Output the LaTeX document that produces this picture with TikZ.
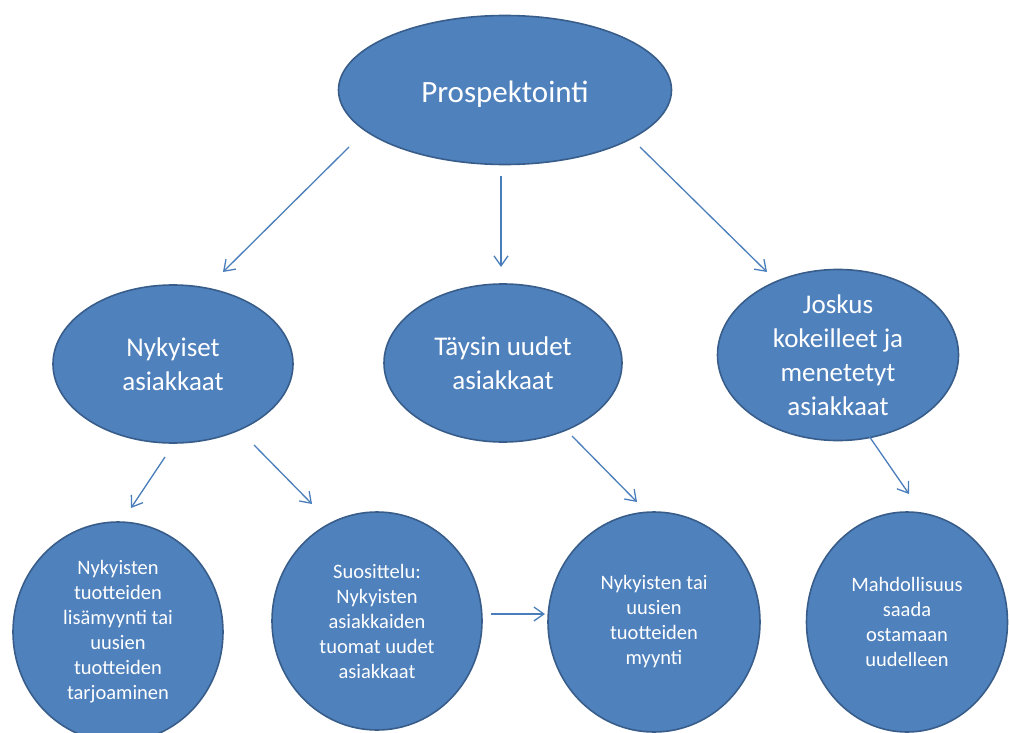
\documentclass[tikz,border=0pt]{standalone}
\usepackage{fontspec}
\setmainfont{Carlito}
\usetikzlibrary{shapes.geometric,arrows.meta}
\definecolor{bfill}{HTML}{4F81BD}
\definecolor{bdraw}{HTML}{385D8A}
\definecolor{arr}{HTML}{4A7EBB}
\tikzset{
  blob/.style={ellipse, fill=bfill, draw=bdraw, line width=1.6pt, inner sep=0pt,
    text=white, align=center},
  toptext/.style={font=\fontsize{31}{37}\selectfont, text height=31pt, text depth=6pt},
  midtext/.style={font=\fontsize{27}{34}\selectfont},
  lowtext/.style={font=\fontsize{20.5}{25}\selectfont},
  conn/.style={draw=arr, line width=1.3pt,
    -{Straight Barb[length=10pt,width=14pt,line width=1.3pt]}}
}
\begin{document}
\begin{tikzpicture}[x=1pt,y=-1pt]
\useasboundingbox (0,0) rectangle (1009,733);
% top
\node[blob, toptext, minimum width=333pt, minimum height=149pt] (top) at (505,90) {Prospektointi};
% middle
\node[blob, midtext, minimum width=240pt, minimum height=158pt] (nyk) at (173,364) {Nykyiset\\asiakkaat};
\node[blob, midtext, minimum width=238pt, minimum height=158pt] (tay) at (503,363) {Täysin uudet\\asiakkaat};
\node[blob, midtext, minimum width=241pt, minimum height=156pt] (jos) at (838,355) {Joskus\\kokeilleet ja\\menetetyt\\asiakkaat};
% bottom
\node[blob, lowtext, minimum width=210pt, minimum height=220pt] (c1) at (118,632) {Nykyisten\\tuotteiden\\lisämyynti tai\\uusien\\tuotteiden\\tarjoaminen};
\node[blob, lowtext, minimum width=210pt, minimum height=218pt] (c2) at (377,621) {Suosittelu:\\Nykyisten\\asiakkaiden\\tuomat uudet\\asiakkaat};
\node[blob, lowtext, minimum width=212pt, minimum height=220pt] (c3) at (654,622) {Nykyisten tai\\uusien\\tuotteiden\\myynti};
\node[blob, lowtext, minimum width=201pt, minimum height=220pt] (c4) at (907,622) {Mahdollisuus\\saada\\ostamaan\\uudelleen};
% connector ends
\coordinate (a1s) at (349,147); \coordinate (a1e) at (223,272);
\coordinate (a2s) at (501,176); \coordinate (a2e) at (501,267);
\coordinate (a3s) at (640,147); \coordinate (a3e) at (767,272);
\coordinate (a4s) at (165,457); \coordinate (a4e) at (131,508);
\coordinate (a5s) at (254,445); \coordinate (a5e) at (312,504);
\coordinate (a6s) at (572,436); \coordinate (a6e) at (637,502);
\coordinate (a7s) at (869,436); \coordinate (a7e) at (909,494);
\coordinate (a8s) at (491,614); \coordinate (a8e) at (545,614);
\draw[conn] (a1s) -- (a1e);
\draw[conn] (a2s) -- (a2e);
\draw[conn] (a3s) -- (a3e);
\draw[conn] (a4s) -- (a4e);
\draw[conn] (a5s) -- (a5e);
\draw[conn] (a6s) -- (a6e);
\draw[conn] (a7s) -- (a7e);
\draw[conn] (a8s) -- (a8e);
\end{tikzpicture}
\end{document}
